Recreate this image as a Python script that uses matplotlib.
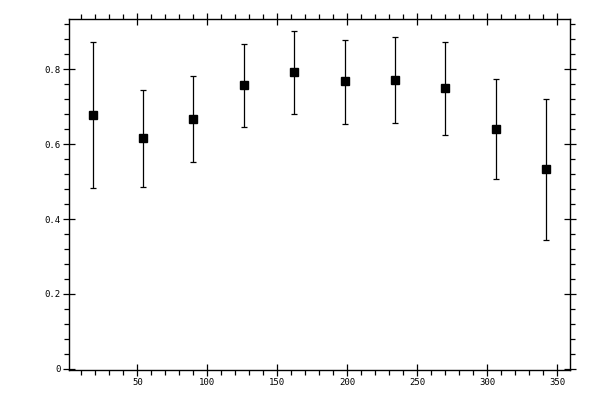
import matplotlib
matplotlib.use("Agg")
import matplotlib.pyplot as plt
from matplotlib.ticker import MultipleLocator, FixedLocator, FixedFormatter

# data
angle = [18, 54, 90, 126, 162, 198, 234, 270, 306, 342]
value = [0.677, 0.616, 0.667, 0.757, 0.792, 0.768, 0.771, 0.749, 0.640, 0.533]
err_hi = [0.872, 0.744, 0.781, 0.868, 0.903, 0.879, 0.885, 0.872, 0.773, 0.720]
err_lo = [0.483, 0.486, 0.552, 0.645, 0.680, 0.653, 0.656, 0.624, 0.507, 0.344]

x_ticks = [50, 100, 150, 200, 250, 300, 350]
y_ticks = [0, 0.2, 0.4, 0.6, 0.8]
y_labels = ["0", "0.2", "0.4", "0.6", "0.8"]

plt.rcParams['font.family'] = ['DejaVu Sans Mono']

fig = plt.figure(figsize=(6, 4), dpi=100)
ax = fig.add_axes([0.115, 0.075, 0.835, 0.8775])

yerr = [[v - lo for v, lo in zip(value, err_lo)],
        [hi - v for v, hi in zip(value, err_hi)]]
ax.errorbar(angle, value, yerr=yerr, fmt='s', color='black', ms=5.2,
            elinewidth=0.9, capsize=2, capthick=0.9)

ax.set_xlim(1.2, 359)
ax.set_ylim(-0.003, 0.934)

ax.xaxis.set_major_locator(FixedLocator(x_ticks))
ax.xaxis.set_minor_locator(MultipleLocator(10))
ax.yaxis.set_major_locator(FixedLocator(y_ticks))
ax.yaxis.set_major_formatter(FixedFormatter(y_labels))
ax.yaxis.set_minor_locator(MultipleLocator(0.04))

for s in ax.spines.values():
    s.set_linewidth(1.0)

ax.tick_params(which='major', direction='inout', length=8, width=0.9,
               top=True, right=True, labelsize=6.5, pad=2)
ax.tick_params(which='minor', direction='out', length=3.5, width=0.9,
               top=True, right=True)

plt.savefig("out.png", dpi=100)
plt.close()
